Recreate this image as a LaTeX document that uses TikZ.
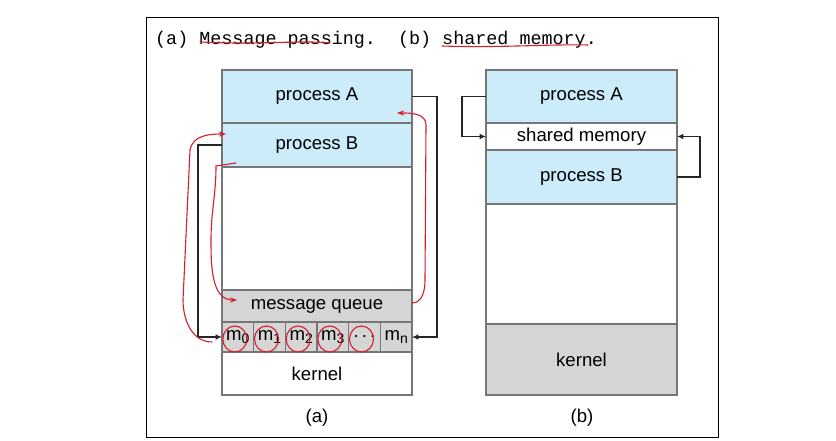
\documentclass[tikz,border=0pt]{standalone}
\usepackage{fontspec}
\setmainfont{Liberation Sans}
\setmonofont{Liberation Mono}
\usetikzlibrary{arrows.meta, calc}

\definecolor{procblue}{RGB}{203,236,248}
\definecolor{kgray}{RGB}{213,213,213}
\definecolor{edgegray}{RGB}{118,118,118}
\definecolor{inkred}{RGB}{215,30,45}

% m with subscript, as in the queue cells
\newcommand{\msg}[1]{m\raisebox{-0.35ex}{\fontsize{14}{14}\selectfont #1}}

\begin{document}
\begin{tikzpicture}[x=1pt, y=-1pt, font=\fontsize{18.6}{22}\selectfont]
\useasboundingbox (0,0) rectangle (836,441);
\fill[white] (0,0) rectangle (836,441);

% box styles
\tikzset{cell/.style={draw=edgegray, line width=1.1pt, anchor=north west, inner sep=0pt, outer sep=0pt},
         proc/.style={cell, fill=procblue},
         sys/.style={cell, fill=kgray},
         plain/.style={cell, fill=white},
         conn/.style={black!85, line width=1.5pt, -{Latex[length=2.2mm, width=2mm]}},
         scribble/.style={inkred, line width=1.1pt, line cap=round},
         caption/.style={font=\fontsize{18.6}{22}\selectfont}}
\def\wa{190}
\def\wb{191}

% ---- frame and title
\draw[black, line width=1pt] (146,18) rectangle (718,437);
\node[anchor=base west, inner sep=0pt, font=\ttfamily\fontsize{18.4}{22}\selectfont] (title) at (155,45)
  {(a) Message passing.~~(b) shared memory.};
\draw[scribble] (200,42) .. controls (260,45) and (300,40) .. (330,43);
\draw[scribble] (442,46) .. controls (500,48) and (550,44) .. (588,45);

% ===== (a) message passing
\node[proc, minimum width=\wa, minimum height=53] (pa) at (222,70) {process A};
\node[proc, minimum width=\wa, minimum height=44] (pb) at (222,123) {process B};
\node[plain, minimum width=\wa, minimum height=123] (freea) at (222,167) {};
\node[sys, minimum width=\wa, minimum height=32] (mq) at (222,290) {message queue};
\foreach \i in {0,1,2,3}
  {\node[sys, minimum width=\wa/6, minimum height=30] (m\i) at (222+\i*\wa/6,322) {\msg{\i}};}
\node[sys, minimum width=\wa/6, minimum height=30] (m4) at (222+4*\wa/6,322) {.\,.\,.};
\node[sys, minimum width=\wa/6, minimum height=30] (mn) at (222+5*\wa/6,322) {\msg{n}};
\node[plain, minimum width=\wa, minimum height=43] (kernela) at (222,352) {kernel};
\node[caption] (capa) at (317,418) {(a)};

\draw[conn] (pa.east) -- ++(25,0) |- (mn.east);
\draw[conn] (pb.west) -- ++(-24,0) |- (m0.west);

% hand annotations
\draw[scribble, -{Stealth[length=2.5mm]}] (412,303) to[out=0,in=-90] (425,280) -- (426,125) to[out=90,in=0] (397,113);
\draw[scribble, -{Stealth[length=2.5mm]}] (212,342) to[out=180,in=-90] (183,300) -- (190,150) to[out=80,in=180] (226,134);
\draw[scribble, -{Stealth[length=2.5mm]}] (236,163) -- (216,166) to[out=-90,in=90] (211,240) to[out=-90,in=180] (237,300);
\foreach \i in {0,1,2,3,4} {\draw[scribble] ($(m\i.center)+(-3,2)$) ellipse (12 and 13);}

% ===== (b) shared memory
\node[proc, minimum width=\wb, minimum height=53] (pa2) at (486,70) {process A};
\node[plain, minimum width=\wb, minimum height=27] (shm) at (486,123) {shared memory};
\node[proc, minimum width=\wb, minimum height=54] (pb2) at (486,150) {process B};
\node[plain, minimum width=\wb, minimum height=120] (freeb) at (486,204) {};
\node[sys, minimum width=\wb, minimum height=71] (kernelb) at (486,324) {kernel};
\node[caption] (capb) at (582,418) {(b)};

\draw[conn] (pa2.west) -- ++(-24,0) |- (shm.west);
\draw[conn] (pb2.east) -- ++(23,0) |- (shm.east);
\end{tikzpicture}
\end{document}
